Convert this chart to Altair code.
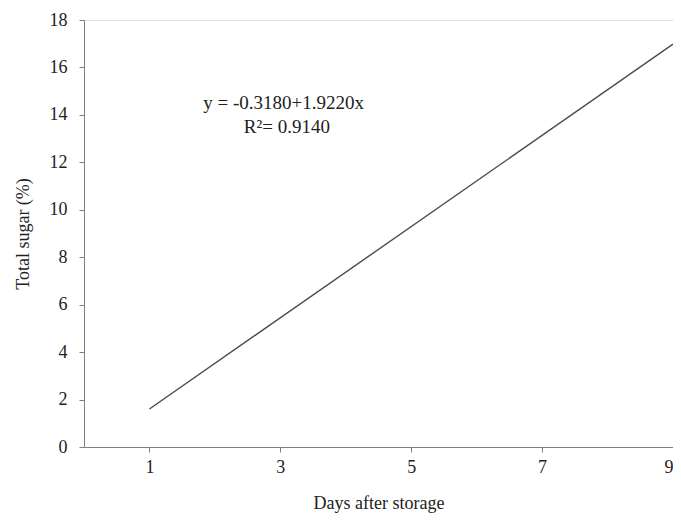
import altair as alt
import pandas as pd

days = [1, 9]
sugar = [1.604, 16.98]
x_ticks = [1, 3, 5, 7, 9]
y_ticks = [0, 2, 4, 6, 8, 10, 12, 14, 16, 18]
ann_text = ["y = -0.3180+1.9220x", "R²= 0.9140"]
ann_x = [3.05, 3.1]
ann_y = [14.5, 13.5]

line_df = pd.DataFrame({"x": days, "y": sugar})
ann_df = pd.DataFrame({"x": ann_x, "y": ann_y, "t": ann_text})

FONT = "Liberation Serif"

xs = alt.Scale(domain=[0, 9], nice=False, zero=False)
ys = alt.Scale(domain=[0, 18], nice=False)

line = alt.Chart(line_df).mark_line(color="#4a4a4a", strokeWidth=1.4).encode(
    x=alt.X("x:Q", scale=xs, title="Days after storage",
            axis=alt.Axis(values=x_ticks, format="d", grid=False, domainColor="#808080",
                          tickColor="#808080", tickSize=5, labelFont=FONT,
                          labelFontSize=18, labelColor="#222", labelPadding=6,
                          labelFlush=True,
                          titleFont=FONT, titleFontSize=18, titleFontWeight="normal",
                          titleColor="#222", titlePadding=18)),
    y=alt.Y("y:Q", scale=ys, title="Total sugar (%)",
            axis=alt.Axis(values=y_ticks, format="d", grid=False, domainColor="#808080",
                          tickColor="#808080", tickSize=5, labelFont=FONT,
                          labelFontSize=18, labelColor="#222", labelPadding=12,
                          titleFont=FONT, titleFontSize=18, titleFontWeight="normal",
                          titleColor="#222", titlePadding=17)),
)

ann = alt.Chart(ann_df).mark_text(font=FONT, fontSize=19, color="#222").encode(
    x=alt.X("x:Q", scale=xs),
    y=alt.Y("y:Q", scale=ys),
    text="t:N",
)

chart = (line + ann).properties(
    width=589, height=427,
    autosize=alt.AutoSizeParams(type="none"),
    padding={"left": 76, "top": 12, "right": 0, "bottom": 68},
).configure_view(stroke=None).configure(background="white")

chart.save("out.html", embed_options={"renderer": "svg", "actions": False})
